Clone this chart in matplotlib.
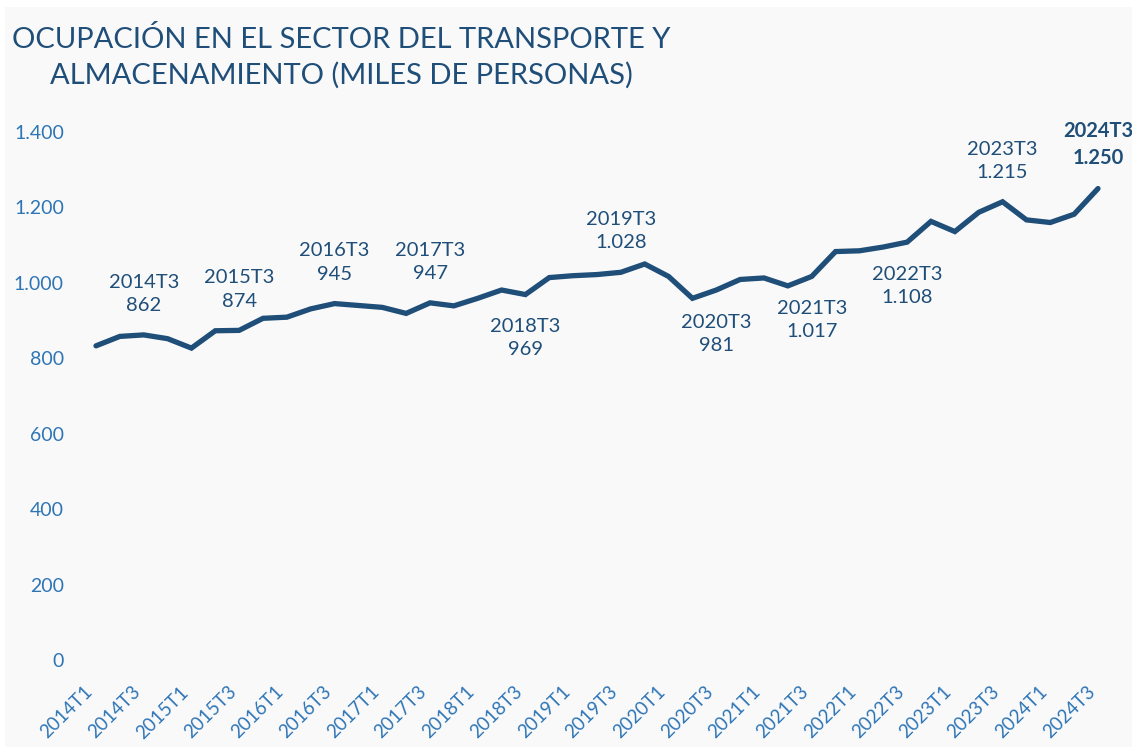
import numpy as np
import matplotlib.pyplot as plt
import matplotlib.transforms as mtransforms
from matplotlib.patches import Rectangle

# quarters 2014T1 .. 2024T3
years = list(range(2014, 2025))
quarters = [f"{y}T{q}" for y in years for q in (1, 2, 3, 4)][:43]

ocupados = [833, 858, 862, 852, 827, 873, 874, 906, 909, 931,
            945, 940, 935, 919, 947, 939, 959, 981, 969, 1014,
            1019, 1022, 1028, 1050, 1017, 959, 981, 1009, 1013, 992,
            1017, 1083, 1085, 1095, 1108, 1163, 1136, 1187, 1215, 1167,
            1160, 1182, 1250]

# labelled quarters and whether the label goes below the line
label_quarters = ["2014T3", "2015T3", "2016T3", "2017T3", "2018T3", "2019T3",
                  "2020T3", "2021T3", "2022T3", "2023T3", "2024T3"]
label_below = ["2018T3", "2020T3", "2021T3", "2022T3"]

yticks = [0, 200, 400, 600, 800, 1000, 1200, 1400]

dark = "#1f4e79"
light = "#2e75b6"
bg = "#f9f9f9"
font = "Lato"

def fmt(v):
    return f"{v:,}".replace(",", ".")

W, H = 1132, 747
fig = plt.figure(figsize=(W / 100, H / 100), dpi=100, facecolor="white")
fig.patches.append(Rectangle((5 / W, 0), 1, 1 - 7 / H, transform=fig.transFigure,
                             facecolor=bg, edgecolor="none", zorder=-10))

# axes: y=0 at px 660, y=1400 at px 132; x index 0 at px 96, 42 at px 1098
ax_l, ax_r = 75, 1110
ax_b, ax_t = 660, 132
ax = fig.add_axes([ax_l / W, (H - ax_b) / H, (ax_r - ax_l) / W, (ax_b - ax_t) / H])
ax.set_facecolor("none")
ppu = (1098 - 96) / 42
ax.set_xlim(-(96 - ax_l) / ppu, 42 + (ax_r - 1098) / ppu)
ax.set_ylim(0, 1400)

x = np.arange(len(quarters))
ax.plot(x, ocupados, color=dark, lw=3.8, solid_joinstyle="miter",
        solid_capstyle="round", clip_on=False)

for s in ax.spines.values():
    s.set_visible(False)
ax.tick_params(length=0)

ax.set_yticks(yticks)
ax.set_yticklabels([fmt(v) for v in yticks], color=light, fontsize=14,
                   family=font)
ax.tick_params(axis="y", pad=8)

xt = x[::2]
ax.set_xticks(xt)
ax.set_xticklabels([quarters[i] for i in xt], rotation=45, ha="right",
                   va="center", rotation_mode="anchor", color=light,
                   fontsize=13.5, family=font)
ax.tick_params(axis="x", pad=21)
off = mtransforms.ScaledTranslation(-6 / 100, 0, fig.dpi_scale_trans)
for lab in ax.get_xticklabels():
    lab.set_transform(lab.get_transform() + off)

for q in label_quarters:
    i = quarters.index(q)
    v = ocupados[i]
    bold = q == "2024T3"
    txt = f"{q}\n{fmt(v)}"
    if q in label_below:
        ax.annotate(txt, (i, v), xytext=(0, -17), textcoords="offset points",
                    ha="center", va="top", color=dark, fontsize=14.5,
                    family=font, linespacing=1.45)
    else:
        ax.annotate(txt, (i, v), xytext=(0, 15), textcoords="offset points",
                    ha="center", va="bottom", color=dark, fontsize=14.5,
                    family=font, linespacing=1.45,
                    fontweight="bold" if bold else "normal")

fig.text(341 / W, 1 - 26 / H,
         "OCUPACIÓN EN EL SECTOR DEL TRANSPORTE Y\nALMACENAMIENTO (MILES DE PERSONAS)",
         color=dark, fontsize=21, family=font, linespacing=1.4,
         ha="center", va="top", multialignment="center")

fig.savefig("out.png", dpi=100, facecolor="white")
